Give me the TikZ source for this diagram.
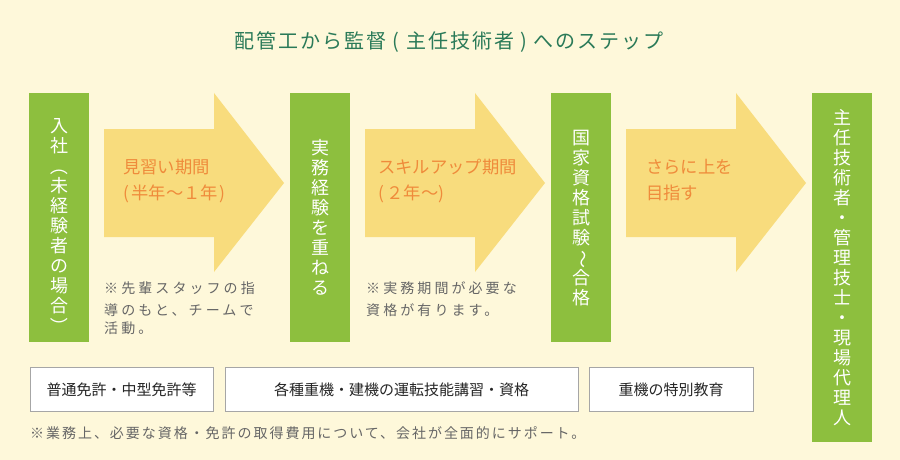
\documentclass[tikz,border=0pt]{standalone}
\usepackage{fontspec}
\setmainfont{Noto Sans CJK JP}
\usepackage{graphicx}
\definecolor{bgcol}{HTML}{FEF8DA}
\definecolor{stepgreen}{HTML}{8DBF3E}
\definecolor{arrowyellow}{HTML}{F8DC7D}
\definecolor{orangetxt}{HTML}{EF8B3B}
\definecolor{titlegreen}{HTML}{2A7A58}
\definecolor{graytxt}{HTML}{666666}
\definecolor{boxborder}{HTML}{A6A6A6}
\newcommand\vglyph[1]{\raisebox{0pt}[0.8em][0.2em]{\makebox[1em][c]{\rotatebox[origin=c]{-90}{#1}}}}
\newcommand\notefont{\fontsize{14}{19}\selectfont\addfontfeature{LetterSpace=22}}
\newcommand\footfont{\fontsize{14}{19}\selectfont\addfontfeature{LetterSpace=14}}
\newcommand\titlefont{\fontsize{20}{24}\selectfont\addfontfeature{LetterSpace=10}}
\begin{document}
\begin{tikzpicture}[x=1pt,y=-1pt,
  greenbox/.style={fill=stepgreen, draw=none, inner sep=0pt, anchor=north west,
    minimum width=60pt},
  vtext/.style={text=white, align=center, inner sep=0pt, font=\fontsize{18}{20}\selectfont},
  bigarrow/.style={fill=arrowyellow, draw=none},
  arrowtxt/.style={text=orangetxt, anchor=base west, inner sep=0pt, font=\fontsize{17.3}{20}\selectfont},
  notetxt/.style={text=graytxt, anchor=base west, inner sep=0pt, font=\notefont},
  whitebox/.style={draw=boxborder, fill=white, line width=1pt, minimum height=44pt,
    inner sep=0pt, text=black!85, font=\fontsize{15}{18}\selectfont},
  titletxt/.style={text=titlegreen, font=\titlefont}]
\fill[bgcol] (0,0) rectangle (900,460);
\useasboundingbox (0,0) rectangle (900,460);

% title
\node[titletxt] (title) at (449,42) {配管工から監督 ( 主任技術者 ) へのステップ};

% arrows
\fill[bigarrow] (104,129) -- (214,129) -- (214,93) -- (284,183) -- (214,272) -- (214,237) -- (104,237) -- cycle;
\fill[bigarrow] (365,129) -- (475,129) -- (475,93) -- (545,183) -- (475,272) -- (475,237) -- (365,237) -- cycle;
\fill[bigarrow] (626,129) -- (736,129) -- (736,93) -- (806,183) -- (736,272) -- (736,237) -- (626,237) -- cycle;

% green step boxes
\node[greenbox, minimum height=249pt] (g1) at (29,93) {};
\node[greenbox, minimum height=249pt] (g2) at (290,93) {};
\node[greenbox, minimum height=249pt] (g3) at (551,93) {};
\node[greenbox, minimum height=349pt] (g4) at (812,93) {};
\node[vtext, yshift=-10pt] (t1) at (g1.center)
  {入\\社\\\vglyph{（}\\未\\経\\験\\者\\の\\場\\合\\\vglyph{）}};
\node[vtext] (t2) at (g2.center) {実\\務\\経\\験\\を\\重\\ね\\る};
\node[vtext] (t3) at (g3.center) {国\\家\\資\\格\\試\\験\\\vglyph{〜}\\合\\格};
\node[vtext] (t4) at (g4.center)
  {主\\任\\技\\術\\者\\・\\管\\理\\技\\士\\・\\現\\場\\代\\理\\人};

% arrow texts
\node[arrowtxt] (a1l1) at (123,173.5) {見習い期間};
\node[arrowtxt] (a1l2) at (123,199.5) {(\hspace{2.5pt}半年〜１年\hspace{1.5pt})};
\node[arrowtxt] (a2l1) at (378,173.5) {スキルアップ期間};
\node[arrowtxt] (a2l2) at (378,199.5) {(\hspace{2.5pt}２年〜)};
\node[arrowtxt] (a3l1) at (646,173.5) {さらに上を};
\node[arrowtxt] (a3l2) at (646,199.5) {目指す};

% notes
\node[notetxt] (n1l1) at (104,293.5) {※先輩スタッフの指};
\node[notetxt] (n1l2) at (104,315) {導のもと、チームで};
\node[notetxt] (n1l3) at (104,333.5) {活動。};
\node[notetxt] (n2l1) at (366,293.5) {※実務期間が必要な};
\node[notetxt] (n2l2) at (366,315) {資格が有ります。};

% bottom boxes
\node[whitebox, minimum width=183pt] (b1) at (121.5,389.5) {普通免許・中型免許等};
\node[whitebox, minimum width=353pt] (b2) at (401.5,389.5) {各種重機・建機の運転技能講習・資格};
\node[whitebox, minimum width=164pt] (b3) at (671,389.5) {重機の特別教育};

% footnote
\node[notetxt, font=\footfont] (foot) at (30,438) {※業務上、必要な資格・免許の取得費用について、会社が全面的にサポート。};
\end{tikzpicture}
\end{document}
